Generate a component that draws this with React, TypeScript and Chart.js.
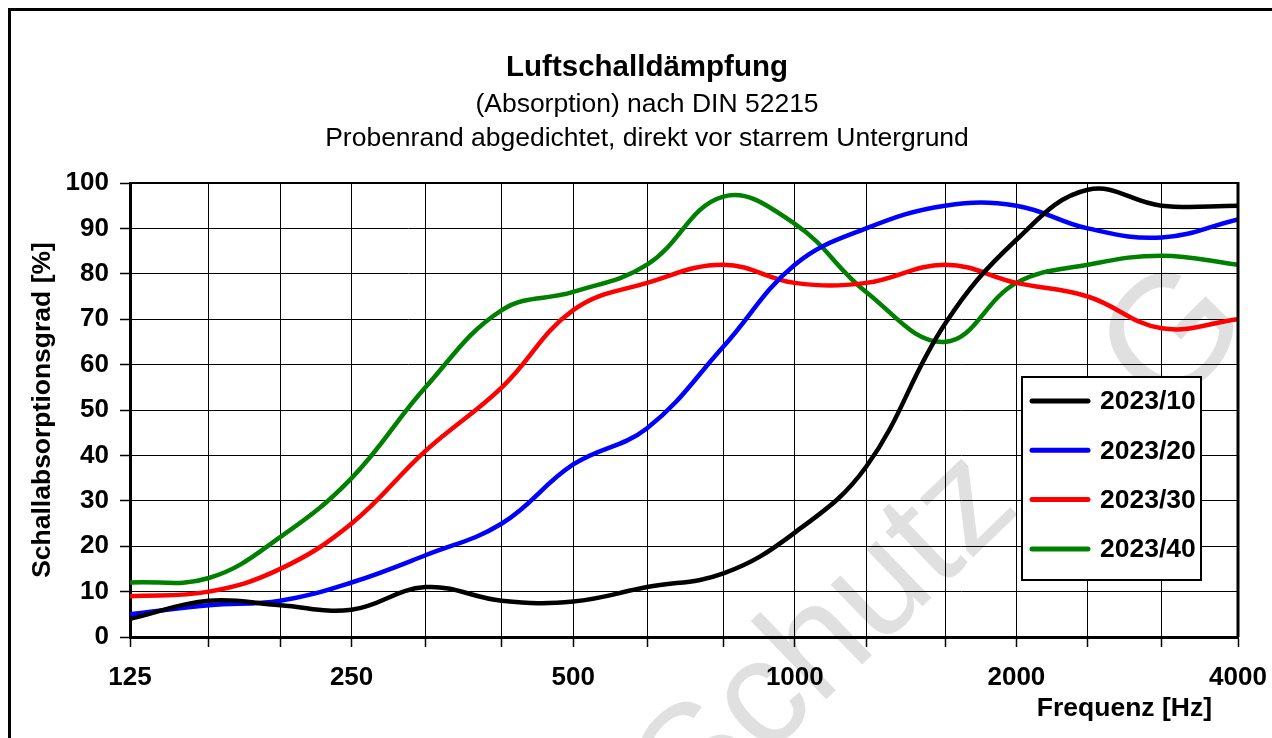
import React, { useEffect, useRef } from 'react';
import { Chart, registerables } from 'chart.js';

Chart.register(...registerables);

// ---------- data ----------
const FREQUENCIES = [125, 160, 200, 250, 315, 400, 500, 630, 800, 1000, 1250, 1600, 2000, 2500, 3150, 4000];
const OCTAVE_LABELS = [125, 250, 500, 1000, 2000, 4000];
const Y_TICKS = [0, 10, 20, 30, 40, 50, 60, 70, 80, 90, 100];

const SERIES_NAMES = ['2023/10', '2023/20', '2023/30', '2023/40'];
const SERIES_COLORS = ['#000000', '#0000ff', '#ff0000', '#008000'];

const S_2023_10 = [4, 8, 7, 6, 11, 8, 7.8, 11, 14, 23, 37.5, 69, 87.5, 98.5, 95, 95];
const S_2023_20 = [5, 7, 8, 12, 18, 25, 38, 46, 64, 82, 90, 95, 95, 90, 88, 92];
const S_2023_30 = [9, 10, 15, 25, 41, 55, 72, 78, 82, 78, 78, 82, 78, 75, 68, 70];
const S_2023_40 = [12, 13, 22, 35, 55, 72, 76, 82, 97, 91, 76, 65, 78, 82, 84, 82];
const SERIES_VALUES = [S_2023_10, S_2023_20, S_2023_30, S_2023_40];

const TITLE = 'Luftschalldämpfung';
const SUBTITLES = ['(Absorption) nach DIN 52215', 'Probenrand abgedichtet, direkt vor starrem Untergrund'];
const X_TITLE = 'Frequenz [Hz]';
const Y_TITLE = 'Schallabsorptionsgrad [%]';
const WATERMARK_WORD = 'Schutz';
const WATERMARK_LOGO = 'G';

const FONT = '"Liberation Sans", Arial, Helvetica, sans-serif';

const decorPlugin = {
  id: 'decor',
  beforeDraw(chart: any) {
    const ctx = chart.ctx;
    ctx.save();
    ctx.fillStyle = '#e0e0e0';
    ctx.textAlign = 'center';
    ctx.textBaseline = 'middle';
    // watermark word
    ctx.save();
    ctx.translate(818, 628);
    ctx.rotate(-44 * Math.PI / 180);
    ctx.font = `150px ${FONT}`;
    ctx.fillText(WATERMARK_WORD, 0, 0);
    ctx.restore();
    // watermark logo
    ctx.save();
    ctx.translate(1166, 330);
    ctx.rotate(-45 * Math.PI / 180);
    ctx.font = `165px ${FONT}`;
    ctx.fillText(WATERMARK_LOGO, 0, 0);
    ctx.restore();
    ctx.restore();
  },
  afterDraw(chart: any) {
    const ctx = chart.ctx;
    const { left, right, top, bottom } = chart.chartArea;
    ctx.save();
    // plot frame: top and right
    ctx.strokeStyle = '#000';
    ctx.lineWidth = 2;
    ctx.beginPath();
    ctx.moveTo(left, top);
    ctx.lineTo(right, top);
    ctx.stroke();
    ctx.lineWidth = 3;
    ctx.beginPath();
    ctx.moveTo(right, top - 1);
    ctx.lineTo(right, bottom);
    ctx.stroke();

    // titles
    ctx.fillStyle = '#000';
    ctx.textAlign = 'center';
    ctx.textBaseline = 'alphabetic';
    ctx.font = `bold 29.5px ${FONT}`;
    ctx.fillText(TITLE, 636, 65);
    ctx.font = `26.5px ${FONT}`;
    ctx.fillText(SUBTITLES[0], 636, 101);
    ctx.fillText(SUBTITLES[1], 636, 135);

    // axis titles
    ctx.font = `bold 26.5px ${FONT}`;
    ctx.textAlign = 'right';
    ctx.fillText(X_TITLE, 1201, 705);
    ctx.save();
    ctx.translate(32, (top + bottom) / 2);
    ctx.rotate(-Math.PI / 2);
    ctx.textAlign = 'center';
    ctx.textBaseline = 'middle';
    ctx.fillText(Y_TITLE, 0, 0);
    ctx.restore();

    // legend
    const bx = right - 216, by = bottom - 260, bw = 179, bh = 203;
    ctx.fillStyle = '#fff';
    ctx.fillRect(bx, by, bw, bh);
    ctx.strokeStyle = '#000';
    ctx.lineWidth = 2;
    ctx.strokeRect(bx, by, bw, bh);
    ctx.font = `bold 26.5px ${FONT}`;
    ctx.textAlign = 'left';
    ctx.textBaseline = 'middle';
    chart.data.datasets.forEach((ds: any, i: number) => {
      const y = by + 24 + i * 49.3;
      ctx.strokeStyle = ds.borderColor;
      ctx.lineWidth = 5;
      ctx.lineCap = 'round';
      ctx.beginPath();
      ctx.moveTo(bx + 10, y);
      ctx.lineTo(bx + 66, y);
      ctx.stroke();
      ctx.fillStyle = '#000';
      ctx.fillText(ds.label, bx + 78, y + 1);
    });
    ctx.restore();
  },
};

export default function App() {
  const canvasRef = useRef<HTMLCanvasElement | null>(null);

  useEffect(() => {
    const canvas = canvasRef.current;
    if (!canvas) return;
    const datasets = SERIES_NAMES.map((name, si) => ({
      label: name,
      data: FREQUENCIES.map((f, i) => ({ x: f, y: SERIES_VALUES[si][i] })),
      borderColor: SERIES_COLORS[si],
      backgroundColor: SERIES_COLORS[si],
      borderWidth: 4.5,
      pointRadius: 0,
      tension: 0.4,
      fill: false,
      borderCapStyle: 'round' as const,
      borderJoinStyle: 'round' as const,
    }));

    const tickFont = { family: FONT, size: 26, weight: 'bold' as const };

    const chart = new Chart(canvas, {
      type: 'line',
      data: { datasets },
      options: {
        animation: false,
        responsive: false,
        devicePixelRatio: 1,
        layout: { padding: { top: 172, right: 34, left: 0, bottom: 0 } },
        plugins: {
          legend: { display: false },
          title: { display: false },
          tooltip: { enabled: false },
        },
        scales: {
          x: {
            type: 'logarithmic',
            min: 125,
            max: 4000,
            afterBuildTicks: (s: any) => {
              s.ticks = FREQUENCIES.map((v) => ({ value: v }));
            },
            afterFit: (s: any) => {
              s.height = 101;
              s.paddingLeft = 0;
              s.paddingRight = 0;
            },
            ticks: {
              autoSkip: false,
              maxRotation: 0,
              minRotation: 0,
              padding: 15,
              color: '#000',
              font: tickFont,
              callback: (v: any) => (OCTAVE_LABELS.includes(Number(v)) ? String(v) : ''),
            },
            grid: { color: '#000', lineWidth: 1, tickLength: 10, tickColor: '#000', tickWidth: 1.5 },
            border: { display: true, color: '#000', width: 3 },
          },
          y: {
            type: 'linear',
            min: 0,
            max: 100,
            afterBuildTicks: (s: any) => {
              s.ticks = Y_TICKS.map((v) => ({ value: v }));
            },
            afterFit: (s: any) => {
              s.width = 119;
              s.paddingTop = 0;
              s.paddingBottom = 0;
            },
            ticks: {
              padding: 11,
              color: '#000',
              font: tickFont,
              callback: (v: any) => String(v),
            },
            grid: { color: '#000', lineWidth: 1, tickLength: 10, tickColor: '#000', tickWidth: 1.5 },
            border: { display: true, color: '#000', width: 3 },
          },
        },
      },
      plugins: [decorPlugin],
    });
    return () => chart.destroy();
  }, []);

  return (
    <div
      style={{
        position: 'absolute',
        left: 8,
        top: 8,
        width: 1264,
        height: 730,
        borderLeft: '3px solid #000',
        borderTop: '3px solid #000',
        boxSizing: 'border-box',
        overflow: 'hidden',
        background: '#fff',
      }}
    >
      <canvas ref={canvasRef} width={1261} height={727} style={{ display: 'block', width: 1261, height: 727 }} />
    </div>
  );
}
